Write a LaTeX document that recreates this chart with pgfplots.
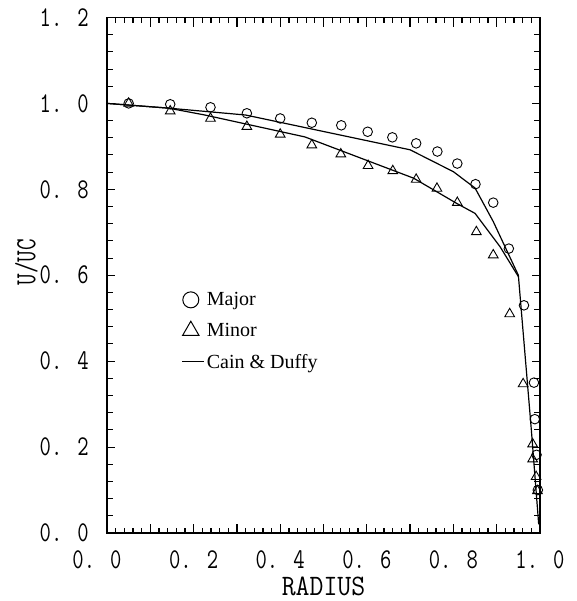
\documentclass[border=0pt]{standalone}
\usepackage{fontspec}
\setmainfont{Liberation Serif}
\usepackage{graphicx}
\usepackage{pgfplots}
\pgfplotsset{compat=1.18}
\newcommand{\tk}[1]{\scalebox{1}[1.3]{\ttfamily #1}}
\newcommand{\tkb}[1]{\scalebox{1}[1.1]{\ttfamily #1}}
\begin{document}
\begin{tikzpicture}
\begin{axis}[
  scale only axis, width=433pt, height=515.5pt,
  xmin=0, xmax=1, ymin=0, ymax=1.2,
  clip=false,
  axis line style={line width=1.2pt},
  xtick={0,0.2,0.4,0.6,0.8,1.0},
  xticklabels={\tk{0. 0\hspace{20pt}},\tk{0. 2},\tk{0. 4},\tk{0. 6},\tk{0. 8},\tk{1. 0}},
  ytick={0,0.2,0.4,0.6,0.8,1.0,1.2},
  yticklabels={\tk{0. 0},\tk{0. 2},\tk{0. 4},\tk{0. 6},\tk{0. 8},\tk{1. 0},\tk{1. 2}},
  major tick length=0pt, minor tick length=0pt,
  ticklabel style={font=\fontsize{22}{22}\selectfont},
  xticklabel style={anchor=north, inner sep=0pt, yshift=-17pt},
  yticklabel style={anchor=east, inner sep=0pt, xshift=-18pt},
  xlabel={\tkb{RADIUS}},
  ylabel={\tk{U/UC}},
  every axis x label/.style={at={(axis description cs:0.5,-0.0854)}, anchor=north, inner sep=0pt, font=\fontsize{27}{27}\selectfont},
  every axis y label/.style={at={(axis description cs:-0.186,0.525)}, anchor=center, rotate=90, inner sep=0pt, font=\fontsize{22.5}{22.5}\selectfont},
  legend style={at={(axis cs:0.172,0.565)}, anchor=north west, draw=none, fill=none,
    font=\fontsize{20}{22}\selectfont, row sep=12pt, inner sep=0pt, cells={anchor=west}},
]
\addlegendimage{only marks, mark=o, mark size=8pt, line width=1pt, black}
\addlegendentry{Major}
\addlegendimage{only marks, mark=triangle, mark size=9.5pt, line width=1pt, black}
\addlegendentry{Minor}
\addlegendimage{line width=1.2pt, black, legend image code/.code={\draw[line width=1.2pt, black] (0pt,0pt) -- (22pt,0pt);}}
\addlegendentry{Cain \& Duffy}

\addplot[forget plot, only marks, mark=o, mark size=4.8pt, line width=0.9pt, black] coordinates {
(0.05,1.0)(0.146,0.998)(0.239,0.991)(0.323,0.977)(0.400,0.965)(0.473,0.955)(0.541,0.949)
(0.602,0.934)(0.659,0.921)(0.714,0.907)(0.763,0.888)(0.809,0.860)(0.851,0.812)(0.892,0.769)
(0.928,0.662)(0.963,0.530)(0.986,0.350)(0.988,0.265)(0.992,0.182)(0.995,0.100)
};
\addplot[forget plot, only marks, mark=triangle, mark size=5.6pt, line width=0.9pt, black] coordinates {
(0.05,1.0)(0.146,0.982)(0.239,0.965)(0.323,0.946)(0.400,0.928)(0.473,0.903)(0.540,0.882)
(0.603,0.855)(0.660,0.843)(0.714,0.823)(0.762,0.802)(0.809,0.769)(0.853,0.701)(0.892,0.647)
(0.930,0.510)(0.961,0.347)(0.983,0.207)(0.983,0.172)(0.991,0.131)(0.994,0.098)
};
\addplot[forget plot, line width=1.2pt, black] coordinates {
(0,1.0)(0.142,0.989)(0.32,0.973)(0.70,0.892)(0.80,0.841)(0.85,0.803)(0.892,0.725)(0.95,0.60)
(0.965,0.42)(0.98,0.24)(0.997,0.02)
};
\addplot[forget plot, line width=1.2pt, black] coordinates {
(0,1.0)(0.142,0.989)(0.226,0.973)(0.457,0.922)(0.708,0.826)(0.808,0.767)(0.85,0.744)
(0.908,0.666)(0.95,0.597)
};

% tick marks (axis decoration)
\pgfplotsinvokeforeach{0.04,0.08,0.12,0.16,0.24,0.28,0.32,0.36,0.44,0.48,0.52,0.56,0.64,0.68,0.72,0.76,0.84,0.88,0.92,0.96,1.04,1.08,1.12,1.16}{
  \draw[line width=1pt, black] (axis cs:0,#1) -- (axis cs:0.014,#1);
  \draw[line width=1pt, black] (axis cs:1,#1) -- (axis cs:0.986,#1);
}
\pgfplotsinvokeforeach{0.2,0.4,0.6,0.8,1.0}{
  \draw[line width=1pt, black] (axis cs:0,#1) -- (axis cs:0.0185,#1);
  \draw[line width=1pt, black] (axis cs:1,#1) -- (axis cs:0.9815,#1);
}
\pgfplotsinvokeforeach{0.02,0.04,0.06,0.08,0.12,0.14,0.16,0.18,0.22,0.24,0.26,0.28,0.32,0.34,0.36,0.38,0.42,0.44,0.46,0.48,0.52,0.54,0.56,0.58,0.62,0.64,0.66,0.68,0.72,0.74,0.76,0.78,0.82,0.84,0.86,0.88,0.92,0.94,0.96,0.98}{
  \draw[line width=1.3pt, black] (axis cs:#1,0) -- (axis cs:#1,0.0125);
  \draw[line width=1.3pt, black] (axis cs:#1,1.2) -- (axis cs:#1,1.1875);
}
\pgfplotsinvokeforeach{0.1,0.2,0.3,0.4,0.5,0.6,0.7,0.8,0.9}{
  \draw[line width=1.3pt, black] (axis cs:#1,0) -- (axis cs:#1,0.022);
  \draw[line width=1.3pt, black] (axis cs:#1,1.2) -- (axis cs:#1,1.178);
}
\end{axis}
\pgfresetboundingbox
\path (current axis.south west) ++(-107pt,-68pt) rectangle ++(576pt,601pt);
\end{tikzpicture}
\end{document}
